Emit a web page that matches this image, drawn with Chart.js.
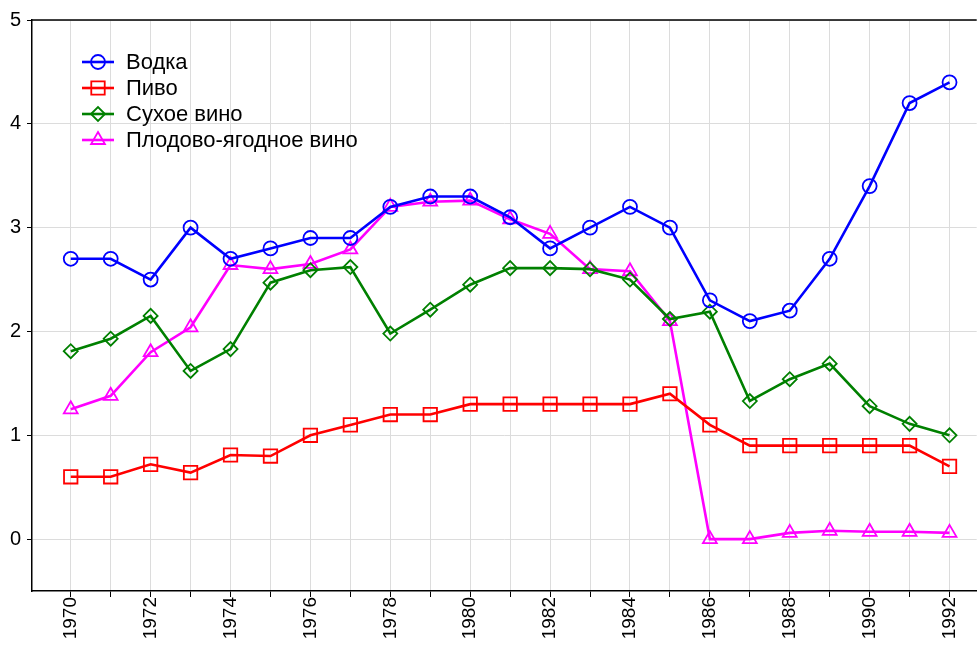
<!DOCTYPE html>
<html><head><meta charset="utf-8">
<script src="https://cdn.jsdelivr.net/npm/chart.js@4/dist/chart.umd.min.js"></script>
<style>html,body{margin:0;padding:0;background:#fff;overflow:hidden}#wrap{width:977px;height:646px;overflow:hidden}</style>
</head><body><div id="wrap"><canvas id="c" width="977" height="646"></canvas></div>
<script>
const years = [1970,1971,1972,1973,1974,1975,1976,1977,1978,1979,1980,1981,1982,1983,1984,1985,1986,1987,1988,1989,1990,1991,1992];
const vodka = [2.7,2.7,2.5,3.0,2.7,2.8,2.9,2.9,3.2,3.3,3.3,3.1,2.8,3.0,3.2,3.0,2.3,2.1,2.2,2.7,3.4,4.2,4.4];
const beer = [0.6,0.6,0.72,0.64,0.81,0.8,1.0,1.1,1.2,1.2,1.3,1.3,1.3,1.3,1.3,1.4,1.1,0.9,0.9,0.9,0.9,0.9,0.7];
const dryWine = [1.81,1.93,2.15,1.62,1.83,2.47,2.59,2.62,1.98,2.21,2.45,2.61,2.61,2.60,2.50,2.12,2.19,1.33,1.54,1.69,1.28,1.11,1.0];
const fruitWine = [1.25,1.38,1.80,2.04,2.64,2.60,2.65,2.79,3.20,3.25,3.26,3.08,2.94,2.60,2.58,2.10,0.0,0.0,0.06,0.08,0.07,0.07,0.06];
const seriesNames = ['Водка','Пиво','Сухое вино','Плодово-ягодное вино'];
const yTicks = [0,1,2,3,4,5];
const xLabelYears = [1970,1972,1974,1976,1978,1980,1982,1984,1986,1988,1990,1992];

const FONT = 'Liberation Sans, Arial, sans-serif';
function mk(label, vals, color, style, r) {
  return {label, data: years.map((y,i)=>({x:y,y:vals[i]})), borderColor: color, backgroundColor: 'rgba(255,255,255,0)',
    pointBackgroundColor: 'rgba(255,255,255,0)', pointBorderColor: color, pointStyle: style, pointRadius: r, pointHoverRadius: r,
    pointBorderWidth: 1.8, borderWidth: 2.6, tension: 0, fill: false};
}
function makeDatasets() {
  return [
    mk(seriesNames[0], vodka, '#0000ff', 'circle', 7),
    mk(seriesNames[1], beer, '#ff0000', 'rect', 9.5),
    mk(seriesNames[2], dryWine, '#008000', 'rectRot', 7),
    mk(seriesNames[3], fruitWine, '#ff00ff', 'triangle', 8)
  ];
}

const legendPlugin = {
  id: 'inLegend',
  afterDraw(chart) {
    const ctx = chart.ctx;
    const a = chart.chartArea;
    ctx.save();
    ctx.strokeStyle = '#000'; ctx.lineWidth = 1.5;
    ctx.beginPath(); ctx.moveTo(a.left, a.top); ctx.lineTo(a.right, a.top); ctx.stroke();
    const xs = chart.scales.x;
    ctx.font = '19px ' + FONT;
    ctx.fillStyle = '#000';
    ctx.textAlign = 'right';
    ctx.textBaseline = 'middle';
    xLabelYears.forEach(yr => {
      const px = xs.getPixelForValue(yr);
      ctx.save();
      ctx.translate(px, a.bottom + 6);
      ctx.rotate(-Math.PI / 2);
      ctx.fillText(String(yr), 0, 0);
      ctx.restore();
    });
    ctx.textAlign = 'left';
    ctx.font = '22px ' + FONT;
    chart.data.datasets.forEach((ds, i) => {
      const y = 62 + i * 26;
      ctx.strokeStyle = ds.borderColor; ctx.lineWidth = 2.6;
      ctx.beginPath(); ctx.moveTo(82, y); ctx.lineTo(114, y); ctx.stroke();
      ctx.lineWidth = 1.8;
      ctx.fillStyle = 'rgba(255,255,255,0)';
      Chart.helpers.drawPoint(ctx, {pointStyle: ds.pointStyle, radius: ds.pointRadius, borderWidth: 1.8}, 98, y);
      ctx.fillStyle = '#000';
      ctx.fillText(ds.label, 126, y + 1);
    });
    ctx.restore();
  }
};

function build() {
  return new Chart(document.getElementById('c'), {
    type: 'line',
    data: { datasets: makeDatasets() },
    options: {
      responsive: false, animation: false, devicePixelRatio: 1,
      layout: { padding: { top: 20, right: 0, left: 0, bottom: 0 } },
      plugins: { legend: { display: false }, tooltip: { enabled: false } },
      scales: {
        x: {
          type: 'linear', min: 1969.03, max: 1992.68,
          afterFit(s) { s.height = 55; },
          ticks: { stepSize: 1, includeBounds: false, autoSkip: false, display: false },
          grid: { color: '#dcdcdc', lineWidth: 1, tickColor: '#000', tickLength: 6, drawTicks: true },
          border: { color: '#000', width: 1.5 }
        },
        y: {
          type: 'linear', min: -0.5, max: 5,
          afterFit(s) { s.width = 32; },
          afterBuildTicks(s) { s.ticks = yTicks.map(v => ({value: v})); },
          ticks: { color: '#000', font: { family: FONT, size: 20 }, padding: 6 },
          grid: { color: '#dcdcdc', lineWidth: 1, tickColor: '#000', tickLength: 5 },
          border: { color: '#000', width: 1.5 }
        }
      }
    },
    plugins: [legendPlugin]
  });
}
let chart = build();
const extra = Math.round(977 - chart.chartArea.right);
if (extra > 0) {
  chart.destroy();
  const cv = document.getElementById('c');
  cv.width = 977 + extra; cv.height = 646;
  cv.style.width = (977 + extra) + 'px'; cv.style.height = '646px';
  chart = build();
}
</script></body></html>
